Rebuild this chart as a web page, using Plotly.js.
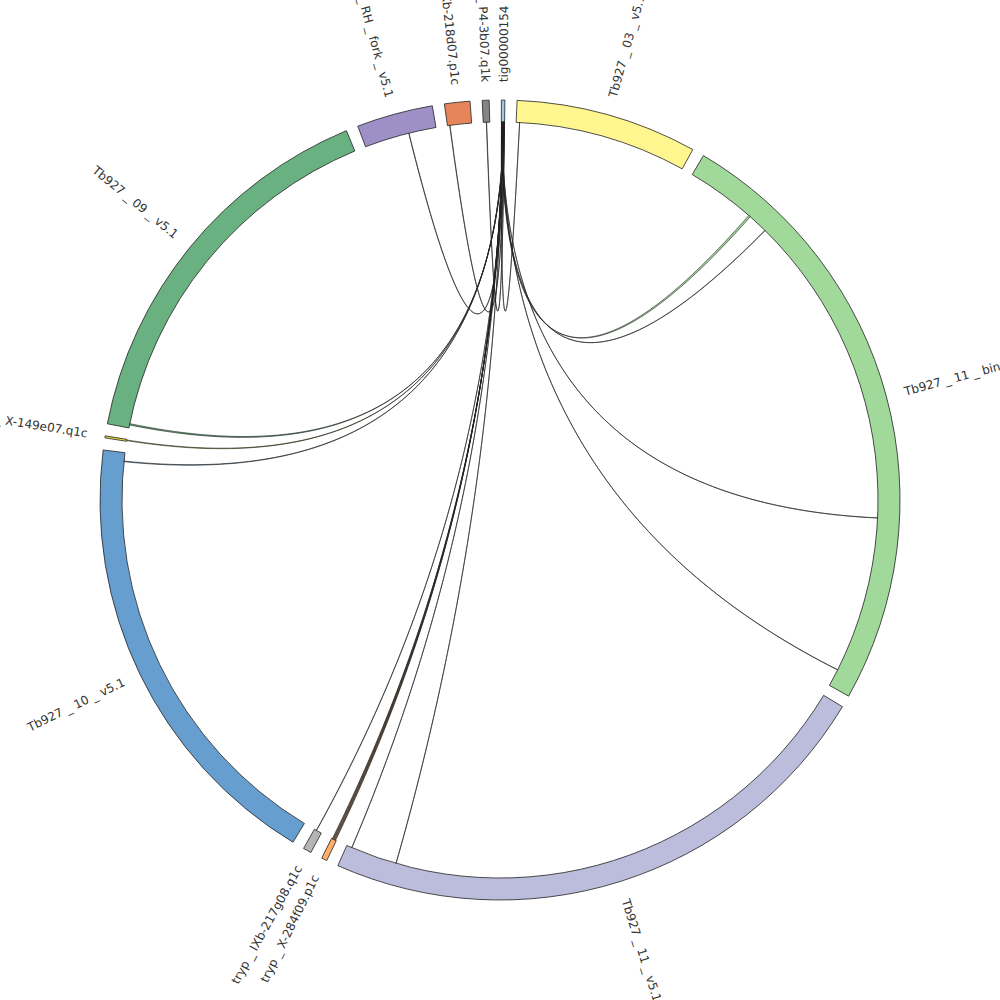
<!DOCTYPE html>
<html>
<head>
<meta charset="utf-8">
<script src="https://cdn.plot.ly/plotly-3.0.1.min.js"></script>
<style>html,body{margin:0;padding:0;background:#fff}</style>
</head>
<body>
<div id="chart" style="width:1000px;height:1000px"></div>
<script>
// contigs, clockwise from the top
var segNames = ['tig00000154', 'Tb927 _ 03 _ v5.1', 'Tb927 _ 11 _ bin _ v5.1', 'Tb927 _ 11 _ v5.1',
  'tryp _ X-284f09.p1c', 'tryp _ IXb-217g08.q1c', 'Tb927 _ 10 _ v5.1', 'tryp _ X-149e07.q1c',
  'Tb927 _ 09 _ v5.1', 'Tb927 _ RH _ fork _ v5.1', 'tryp _ IXb-218d07.p1c', 'tryp _ P4-3b07.q1k'];
var segLengths = [5, 264, 889, 829, 8, 12, 661, 3, 565, 111, 37, 10];
var segColors = ['#9ecae1', '#fff68f', '#a1d99b', '#bcbddc', '#fdae6b', '#b5b5b5',
  '#669ecf', '#e7d74a', '#69b181', '#9e90c6', '#e6855a', '#858585'];

// links, all leave from tig00000154 (index 0)
var linkTarget     = [1,    2,     2,     2,    2,    3,     3,    4,   4,   4,   4,   5,   6,    7,   8,    9,    10,  11];
var linkTargetPos  = [0.02, 0.121, 0.157, 0.70, 0.97, 0.904, 0.99, 0.2, 0.4, 0.6, 0.8, 0.7, 0.98, 0.5, 0.01, 0.62, 0.1, 0.5];
var linkSourcePos  = [0.05, 0.12,  0.17,  0.22, 0.27, 0.32,  0.37, 0.43,0.48,0.53,0.58,0.64,0.70, 0.75,0.80, 0.87, 0.92,0.96];
var linkSourceSize = [0.2,  0.4,   0.2,   0.2,  0.2,  0.2,   0.2,  0.4, 0.4, 0.4, 0.3, 0.2, 0.3,  0.3, 0.4,  0.2,  0.2, 0.2];
var linkTargetSize = [0.2,  3,     0.5,   0.3,  0.3,  0.3,   0.3,  0.8, 0.8, 0.8, 0.6, 0.5, 1,    1,   2,    0.5,  0.5, 0.5];

var GAP = 1.75, START = 0.2;
var R_IN = 378, R_OUT = 400, R_LABEL = 418;

var total = segLengths.reduce(function(a, b){ return a + b; }, 0);
var degPer = (360 - GAP * segLengths.length) / total;
var segStart = [], segEnd = [];
var acc = START;
segLengths.forEach(function(len){
  segStart.push(acc);
  acc += len * degPer;
  segEnd.push(acc);
  acc += GAP;
});

function rad(d){ return d * Math.PI / 180; }
function posAngle(i, frac){ return segStart[i] + frac * (segEnd[i] - segStart[i]); }

// ribbon: arc on source, quadratic curve through the centre, arc on target, curve back
function ribbon(s0, s1, t0, t1){
  var r = [], th = [];
  function arc(a0, a1){
    for (var k = 0; k <= 4; k++){ r.push(R_IN); th.push(a0 + (a1 - a0) * k / 4); }
  }
  function curve(a0, a1){
    var x0 = R_IN * Math.sin(rad(a0)), y0 = R_IN * Math.cos(rad(a0));
    var x1 = R_IN * Math.sin(rad(a1)), y1 = R_IN * Math.cos(rad(a1));
    var n = 80;
    for (var k = 1; k < n; k++){
      var t = k / n;
      var x = (1 - t) * (1 - t) * x0 + t * t * x1;
      var y = (1 - t) * (1 - t) * y0 + t * t * y1;
      r.push(Math.sqrt(x * x + y * y));
      th.push(Math.atan2(x, y) * 180 / Math.PI);
    }
  }
  arc(s0, s1); curve(s1, t0); arc(t0, t1); curve(t1, s0);
  r.push(r[0]); th.push(th[0]);
  return {r: r, theta: th};
}

var traces = [];

traces.push({
  type: 'barpolar',
  r: segLengths.map(function(){ return R_OUT - R_IN; }),
  base: segLengths.map(function(){ return R_IN; }),
  theta: segStart.map(function(s, i){ return (s + segEnd[i]) / 2; }),
  width: segStart.map(function(s, i){ return segEnd[i] - s; }),
  marker: {color: segColors, line: {color: '#222', width: 0.8}},
  hoverinfo: 'skip'
});

for (var i = 0; i < linkTarget.length; i++){
  var sc = posAngle(0, linkSourcePos[i]), sw = linkSourceSize[i] * degPer;
  var tc = posAngle(linkTarget[i], linkTargetPos[i]), tw = linkTargetSize[i] * degPer;
  var rb = ribbon(sc - sw / 2, sc + sw / 2, tc + tw / 2, tc - tw / 2);
  traces.push({
    type: 'scatterpolar', mode: 'lines', fill: 'toself',
    r: rb.r, theta: rb.theta,
    fillcolor: segColors[linkTarget[i]],
    line: {color: '#1e1e1e', width: 0.6},
    hoverinfo: 'skip'
  });
}

// labels, radial, measured so the inner end sits at R_LABEL
var ctx = document.createElement('canvas').getContext('2d');
ctx.font = "12px 'DejaVu Sans'";
var annotations = segNames.map(function(name, i){
  var a = (segStart[i] + segEnd[i]) / 2;
  var w = ctx.measureText(name).width;
  var rc = R_LABEL + w / 2;
  var px = 500 + rc * Math.sin(rad(a)), py = 500 - rc * Math.cos(rad(a));
  return {
    text: name, xref: 'paper', yref: 'paper', x: px / 1000, y: 1 - py / 1000,
    xanchor: 'center', yanchor: 'middle', showarrow: false,
    textangle: a < 180 ? a - 90 : a - 270,
    font: {family: 'DejaVu Sans', size: 12, color: '#333'}
  };
});

Plotly.newPlot('chart', traces, {
  width: 1000, height: 1000,
  margin: {l: 0, r: 0, t: 0, b: 0},
  showlegend: false,
  paper_bgcolor: '#fff',
  polar: {
    domain: {x: [0, 1], y: [0, 1]},
    bgcolor: '#fff',
    radialaxis: {visible: false, range: [0, 500], showgrid: false},
    angularaxis: {visible: false, direction: 'clockwise', rotation: 90, showgrid: false}
  },
  annotations: annotations
}, {displayModeBar: false});
</script>
</body>
</html>
